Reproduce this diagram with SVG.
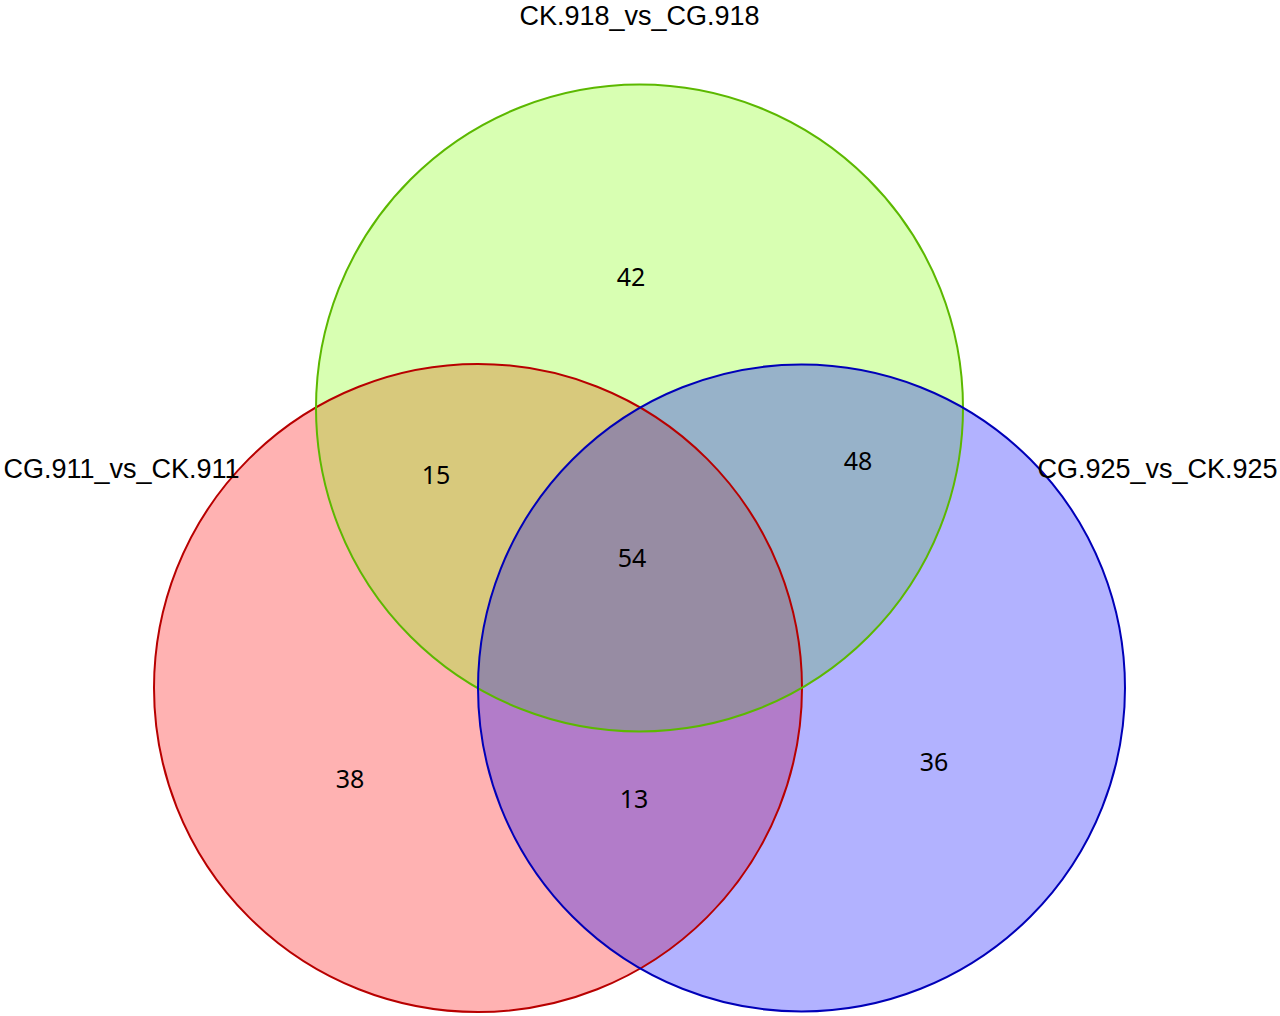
<svg xmlns="http://www.w3.org/2000/svg" width="1280" height="1016" viewBox="0 0 1280 1016">
<style>
.fill{stroke:none;fill-opacity:0.3}
.edge{fill:none;stroke-width:2}
.lab{font-family:"Liberation Sans",Arial,sans-serif;font-size:27px;fill:#000;text-anchor:middle}
.num{font-family:"Noto Sans","Open Sans",sans-serif;font-size:25px;fill:#000;text-anchor:middle}
</style>
<rect width="1280" height="1016" fill="#fff"/>
<g id="set-911">
<circle class="fill" cx="478" cy="688" r="324" fill="#ff0000"/>
</g>
<g id="set-918">
<circle class="fill" cx="639.5" cy="408" r="323.5" fill="#7fff00"/>
</g>
<g id="set-925">
<circle class="fill" cx="801.5" cy="688" r="323.5" fill="#0000ff"/>
</g>
<g id="outlines">
<circle class="edge" cx="478" cy="688" r="324" stroke="#b80000"/>
<circle class="edge" cx="639.5" cy="408" r="323.5" stroke="#5cb800"/>
<circle class="edge" cx="801.5" cy="688" r="323.5" stroke="#0000b8"/>
</g>
<g id="labels">
<text class="lab" x="639.5" y="25">CK.918_vs_CG.918</text>
<text class="lab" x="121.5" y="478">CG.911_vs_CK.911</text>
<text class="lab" x="1157.5" y="478">CG.925_vs_CK.925</text>
</g>
<g id="counts">
<text class="num" x="631" y="286">42</text>
<text class="num" x="436" y="484">15</text>
<text class="num" x="858" y="470">48</text>
<text class="num" x="632" y="567">54</text>
<text class="num" x="350" y="788">38</text>
<text class="num" x="634" y="808">13</text>
<text class="num" x="934" y="771">36</text>
</g>
</svg>
